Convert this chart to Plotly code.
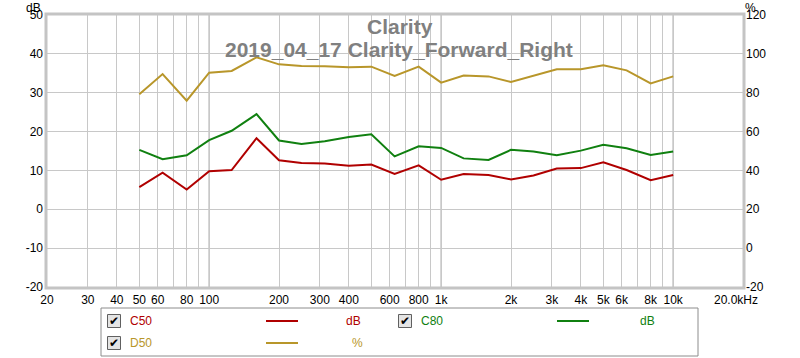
import plotly.graph_objects as go

freqs = [50, 63, 80, 100, 125, 160, 200, 250, 315, 400, 500, 630, 800,
         1000, 1250, 1600, 2000, 2500, 3150, 4000, 5000, 6300, 8000, 10000]
c50 = [5.7, 9.4, 5.1, 9.8, 10.1, 18.3, 12.6, 11.9, 11.8, 11.2, 11.5, 9.1, 11.3,
       7.6, 9.1, 8.8, 7.7, 8.7, 10.5, 10.6, 12.1, 10.1, 7.5, 8.8]
c80 = [15.3, 12.9, 13.9, 17.8, 20.2, 24.5, 17.7, 16.8, 17.5, 18.6, 19.3, 13.6, 16.2,
       15.8, 13.1, 12.7, 15.3, 14.9, 13.9, 15.1, 16.6, 15.7, 14.0, 14.9]
d50 = [79.2, 89.6, 75.9, 90.3, 91.2, 98.2, 94.6, 93.8, 93.6, 93.1, 93.4, 88.6, 93.4,
       85.2, 88.8, 88.4, 85.5, 88.6, 92.1, 92.1, 94.1, 91.5, 84.8, 88.4]

x_grid = [20, 30, 40, 50, 60, 70, 80, 90, 100, 200, 300, 400, 500, 600, 700, 800, 900,
          1000, 2000, 3000, 4000, 5000, 6000, 7000, 8000, 9000, 10000]
x_text = ["20", "30", "40", "50", "60", "", "80", "", "100", "200", "300", "400", "",
          "600", "", "800", "", "1k", "2k", "3k", "4k", "5k", "6k", "", "8k", "", "10k"]
decades = [100, 1000, 10000]
y_left_vals = [-20, -10, 0, 10, 20, 30, 40, 50]
y_left_text = ["-20", "-10", "0", "10", "20", "30", "40", "50"]
y_right_vals = [-20, 0, 20, 40, 60, 80, 100, 120]
y_right_text = ["-20", "0", "20", "40", "60", "80", "100", "120"]

C50_COL = "#b00000"
C80_COL = "#108010"
D50_COL = "#b8962a"
FONT = "Liberation Sans, Arial, sans-serif"

fig = go.Figure()
fig.add_trace(go.Scatter(x=freqs, y=d50, mode="lines", line=dict(color=D50_COL, width=2),
                         yaxis="y2", name="D50"))
fig.add_trace(go.Scatter(x=freqs, y=c80, mode="lines", line=dict(color=C80_COL, width=2),
                         name="C80"))
fig.add_trace(go.Scatter(x=freqs, y=c50, mode="lines", line=dict(color=C50_COL, width=2),
                         name="C50"))

layout_w, layout_h = 800, 358
ml, mr, mt, mb = 47, 57, 15, 71
pw = layout_w - ml - mr
ph = layout_h - mt - mb

def px(xp):
    return (xp - ml) / pw

def py(yp):
    return 1 - (yp - mt) / ph

shapes = []
for d in decades:
    shapes.append(dict(type="line", xref="x", yref="paper", x0=d, x1=d, y0=0, y1=1,
                       line=dict(color="#8a8a8a", width=1), layer="below"))
# plot frame
shapes.append(dict(type="rect", xref="paper", yref="paper", x0=px(46), x1=px(744), y0=py(288), y1=py(14),
                   line=dict(color="#c4c4c4", width=3)))
# legend box
shapes.append(dict(type="rect", xref="paper", yref="paper", x0=px(101), x1=px(698), y0=py(356), y1=py(308),
                   line=dict(color="#8c8c8c", width=1), fillcolor="rgba(0,0,0,0)"))

annotations = []
legend_items = [
    ("C50", C50_COL, "dB", 114, 321, 266, 353),
    ("D50", D50_COL, "%", 114, 343, 266, 357),
    ("C80", C80_COL, "dB", 405, 321, 557, 647),
]
for name, col, unit, cbx, rowy, lx, ux in legend_items:
    shapes.append(dict(type="rect", xref="paper", yref="paper",
                       x0=px(cbx - 6.5), x1=px(cbx + 6.5), y0=py(rowy + 6.5), y1=py(rowy - 6.5),
                       line=dict(color="#606060", width=1), fillcolor="#e4e4e4"))
    annotations.append(dict(text="<b>✔</b>", x=px(cbx), y=py(rowy), xref="paper", yref="paper",
                            showarrow=False, font=dict(size=12, color="#000000", family="DejaVu Sans"),
                            xanchor="center", yanchor="middle"))
    annotations.append(dict(text=name, x=px(cbx + 14), y=py(rowy), xref="paper", yref="paper",
                            showarrow=False, font=dict(size=12, color=col, family=FONT),
                            xanchor="left", yanchor="middle"))
    shapes.append(dict(type="line", xref="paper", yref="paper",
                       x0=px(lx), x1=px(lx + 32), y0=py(rowy), y1=py(rowy),
                       line=dict(color=col, width=2)))
    annotations.append(dict(text=unit, x=px(ux), y=py(rowy), xref="paper", yref="paper",
                            showarrow=False, font=dict(size=12, color=col, family=FONT),
                            xanchor="center", yanchor="middle"))

annotations += [
    dict(text="<b>Clarity</b>", x=px(400), y=py(27), xref="paper", yref="paper", showarrow=False,
         font=dict(size=21, color="#808080", family=FONT), xanchor="center", yanchor="middle"),
    dict(text="<b>2019_04_17 Clarity_Forward_Right</b>", x=px(399), y=py(49), xref="paper",
         yref="paper", showarrow=False,
         font=dict(size=21, color="#808080", family=FONT), xanchor="center", yanchor="middle"),
    dict(text="dB", x=px(33), y=py(0), xref="paper", yref="paper", showarrow=False,
         font=dict(size=12, color="#000000", family=FONT), xanchor="center", yanchor="top",
         borderpad=0),
    dict(text="%", x=px(750), y=py(0), xref="paper", yref="paper", showarrow=False,
         font=dict(size=12, color="#000000", family=FONT), xanchor="center", yanchor="top",
         borderpad=0),
    dict(text="20.0kHz", x=px(736), y=py(300), xref="paper", yref="paper", showarrow=False,
         font=dict(size=12, color="#000000", family=FONT), xanchor="center", yanchor="middle"),
]

fig.update_layout(
    width=layout_w, height=layout_h,
    margin=dict(l=ml, r=mr, t=mt, b=mb, autoexpand=False),
    paper_bgcolor="white", plot_bgcolor="white",
    showlegend=False,
    font=dict(family=FONT, size=12, color="#000000"),
    xaxis=dict(type="log", range=[1.30103, 4.30103], tickvals=x_grid, ticktext=x_text,
               showgrid=True, gridcolor="#c8c8c8", gridwidth=1, zeroline=False,
               showline=False, ticks="", automargin=False, ticklabelstandoff=4,
               tickfont=dict(size=12, family=FONT)),
    yaxis=dict(range=[-20, 50], tickvals=y_left_vals, ticktext=y_left_text, showgrid=True,
               gridcolor="#c8c8c8", gridwidth=1, zeroline=False, showline=False, ticks="",
               automargin=False, ticklabelstandoff=3, tickfont=dict(size=12, family=FONT)),
    yaxis2=dict(range=[-20, 120], tickvals=y_right_vals, ticktext=y_right_text, overlaying="y",
                side="right", showgrid=False, zeroline=False, showline=False, ticks="",
                automargin=False, ticklabelstandoff=2, tickfont=dict(size=12, family=FONT)),
    shapes=shapes,
    annotations=annotations,
)

fig.write_html("out.html", config={"displayModeBar": False},
               post_script="document.body.style.margin='0';")
